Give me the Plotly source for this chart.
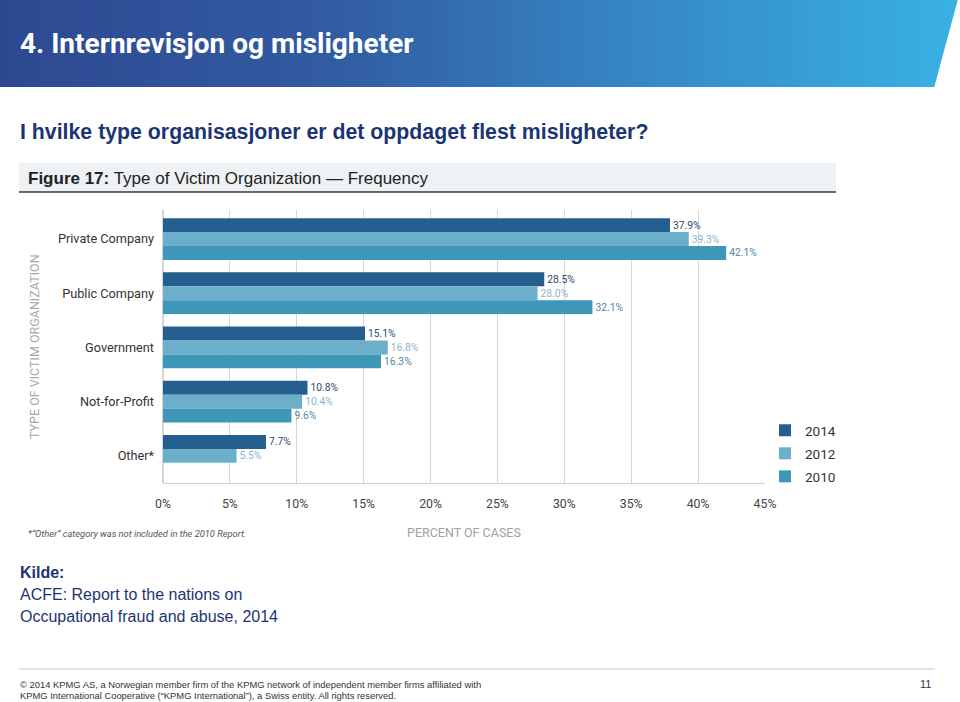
import plotly.graph_objects as go

W, H = 960, 702

categories = ["Private Company", "Public Company", "Government", "Not-for-Profit", "Other*"]
years = ["2014", "2012", "2010"]
values_2014 = [37.9, 28.5, 15.1, 10.8, 7.7]
values_2012 = [39.3, 28.0, 16.8, 10.4, 5.5]
values_2010 = [42.1, 32.1, 16.3, 9.6, None]
x_ticks = [0, 5, 10, 15, 20, 25, 30, 35, 40, 45]
x_tick_labels = ["0%", "5%", "10%", "15%", "20%", "25%", "30%", "35%", "40%", "45%"]

bar_colors = ["#245f8f", "#6cafca", "#3e96b9"]
label_colors = ["#2d4b6c", "#8db5c9", "#4f87a5"]

NARROW = "Roboto, sans-serif"
SANS = "Liberation Sans, Arial, Helvetica, sans-serif"
AX = 1  # annotation inner padding compensation


def xp(px):
    return px / W


def yp(py):
    return 1 - py / H


fig = go.Figure()
for name, vals, col, lcol in zip(years, [values_2014, values_2012, values_2010], bar_colors, label_colors):
    fig.add_trace(go.Bar(
        y=categories, x=vals, name=name, orientation="h", legendgroup=name,
        marker=dict(color=col, line=dict(width=0)),
        text=[None if v is None else f"{v:.1f}%" for v in vals],
        textposition="outside", constraintext="none", cliponaxis=False,
        textfont=dict(family=NARROW, size=10.3, color=lcol),
        hoverinfo="skip",
    ))

shapes = []
# header gradient
stops = [(0.0, (45, 72, 145)), (0.35, (50, 92, 162)), (0.7, (54, 140, 200)), (1.0, (56, 178, 228))]


def grad(t):
    for (t0, c0), (t1, c1) in zip(stops[:-1], stops[1:]):
        if t0 <= t <= t1:
            f = (t - t0) / (t1 - t0)
            return "rgb(%d,%d,%d)" % tuple(round(a + (b - a) * f) for a, b in zip(c0, c1))
    return "rgb(56,178,228)"


n = 120
for i in range(n):
    x0 = i * W / n
    x1 = (i + 1) * W / n + 0.6
    shapes.append(dict(type="rect", xref="paper", yref="paper", x0=xp(x0), x1=xp(x1),
                       y0=yp(87), y1=yp(0), fillcolor=grad((i + 0.5) / n), line=dict(width=0), layer="below"))
shapes.append(dict(type="path", xref="paper", yref="paper",
                   path=f"M {xp(934)},{yp(88)} L {xp(958)},{yp(-1)} L {xp(962)},{yp(-1)} L {xp(962)},{yp(88)} Z",
                   fillcolor="white", line=dict(width=0), layer="below"))
# figure title band
shapes.append(dict(type="rect", xref="paper", yref="paper", x0=xp(19), x1=xp(836), y0=yp(192), y1=yp(163),
                   fillcolor="#eef2f5", line=dict(width=0), layer="below"))
shapes.append(dict(type="line", xref="paper", yref="paper", x0=xp(19), x1=xp(836), y0=yp(192), y1=yp(192),
                   line=dict(color="#3a3a3a", width=1.5)))
# footer line
shapes.append(dict(type="line", xref="paper", yref="paper", x0=xp(19), x1=xp(935), y0=yp(669), y1=yp(669),
                   line=dict(color="#c8c8c8", width=1)))

annotations = [
    dict(text="<b>4. Internrevisjon og misligheter</b>", x=xp(19 - AX), y=yp(44), xanchor="left", yanchor="middle",
         font=dict(family=NARROW, size=28, color="white")),
    dict(text="<b>I hvilke type organisasjoner er det oppdaget flest misligheter?</b>", x=xp(19 - AX), y=yp(132),
         xanchor="left", yanchor="middle", font=dict(family=SANS, size=21.3, color="#1c3572")),
    dict(text="<b>Figure 17:</b> Type of Victim Organization \u2014 Frequency", x=xp(27 - AX), y=yp(178),
         xanchor="left", yanchor="middle", font=dict(family=SANS, size=17, color="#222222")),
    dict(text="TYPE OF VICTIM ORGANIZATION", x=xp(34), y=yp(347), textangle=-90, xanchor="center",
         yanchor="middle", font=dict(family=NARROW, size=12.5, color="#a8a8a8")),
    dict(text="<i>*\u201cOther\u201d category was not included in the 2010 Report.</i>", x=xp(27 - AX), y=yp(533),
         xanchor="left", yanchor="middle", font=dict(family=NARROW, size=9.3, color="#555555")),
    dict(text="PERCENT OF CASES", x=xp(406 - AX), y=yp(532), xanchor="left", yanchor="middle",
         font=dict(family=NARROW, size=12.5, color="#a0a0a0")),
    dict(text="<b>Kilde:</b>", x=xp(19 - AX), y=yp(572), xanchor="left", yanchor="middle",
         font=dict(family=SANS, size=16, color="#1c3572")),
    dict(text="ACFE: Report to the nations on", x=xp(19 - AX), y=yp(594), xanchor="left", yanchor="middle",
         font=dict(family=SANS, size=16, color="#1c3572")),
    dict(text="Occupational fraud and abuse, 2014", x=xp(19 - AX), y=yp(616), xanchor="left", yanchor="middle",
         font=dict(family=SANS, size=16, color="#1c3572")),
    dict(text="\u00a9 2014 KPMG AS, a Norwegian member firm of the KPMG network of independent member firms affiliated with",
         x=xp(19 - AX), y=yp(684), xanchor="left", yanchor="middle", font=dict(family=SANS, size=9.4, color="#333333")),
    dict(text="KPMG International Cooperative (\u201cKPMG International\u201d), a Swiss entity. All rights reserved.",
         x=xp(19 - AX), y=yp(695), xanchor="left", yanchor="middle", font=dict(family=SANS, size=9.4, color="#333333")),
    dict(text="11", x=xp(933), y=yp(684), xanchor="right", yanchor="middle",
         font=dict(family=SANS, size=11, color="#333333")),
]
for a in annotations:
    a.update(xref="paper", yref="paper", showarrow=False)

fig.update_layout(
    width=W, height=H, margin=dict(l=0, r=0, t=0, b=0, autoexpand=False),
    paper_bgcolor="white", plot_bgcolor="white",
    barmode="group", bargap=0.23, bargroupgap=0,
    showlegend=True,
    legend=dict(x=xp(765), y=yp(415), xanchor="left", yanchor="top", traceorder="grouped",
                font=dict(family=NARROW, size=13.5, color="#333333"), bgcolor="rgba(0,0,0,0)",
                itemclick=False, itemdoubleclick=False, tracegroupgap=2.5),
    xaxis=dict(domain=[xp(163), xp(765)], range=[0, 45], tickvals=x_ticks, ticktext=x_tick_labels,
               automargin=False,
               showgrid=True, gridcolor="#d6d6d6", gridwidth=1, zeroline=True, zerolinecolor="#d6d6d6",
               showline=True, linecolor="#d0d0d0", linewidth=1, ticks="", ticklabelstandoff=9,
               tickfont=dict(family=NARROW, size=12.3, color="#444444"), fixedrange=True),
    yaxis=dict(domain=[yp(483), yp(210)], range=[4.5, -0.535], showgrid=False, zeroline=False,
               automargin=False,
               showline=False, ticks="", ticklabelstandoff=8,
               tickfont=dict(family=NARROW, size=12.7, color="#333333"), fixedrange=True),
    shapes=shapes, annotations=annotations,
)

fig.write_html("out.html", post_script="document.body.style.margin='0';")
